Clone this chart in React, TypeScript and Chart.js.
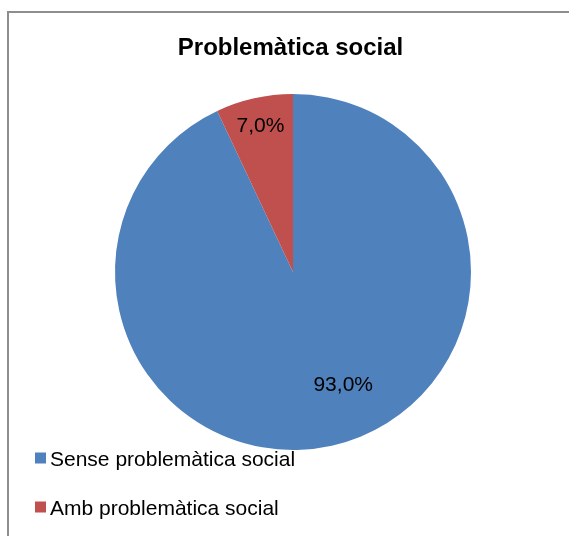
import React, { useEffect, useRef } from "react";
import { Chart, registerables } from "chart.js";

Chart.register(...registerables);

const title = "Problemàtica social";
const categories = ["Sense problemàtica social", "Amb problemàtica social"];
const values = [93.0, 7.0];
const valueLabels = ["93,0%", "7,0%"];
const colors = ["#4F81BD", "#C0504D"];
// label placement: fraction along the slice's arc, and fraction of radius
const labelArcFraction = [0.466, 0.5];
const labelRadiusFraction = [0.694, 0.84];

const FONT = "'Liberation Sans', Arial, sans-serif";

const overlayPlugin = {
  id: "overlay",
  afterDraw(chart: any) {
    const ctx = chart.ctx as CanvasRenderingContext2D;
    ctx.save();
    // title
    ctx.fillStyle = "#000";
    ctx.font = `bold 24px ${FONT}`;
    ctx.textAlign = "center";
    ctx.textBaseline = "alphabetic";
    ctx.fillText(title, 290.5, 55);

    // data labels
    const meta = chart.getDatasetMeta(0);
    ctx.font = `21px ${FONT}`;
    ctx.textBaseline = "middle";
    meta.data.forEach((arc: any, i: number) => {
      const p = arc.getProps(["x", "y", "startAngle", "endAngle", "outerRadius"], true);
      const a = p.startAngle + (p.endAngle - p.startAngle) * labelArcFraction[i];
      const r = p.outerRadius * labelRadiusFraction[i];
      ctx.fillText(valueLabels[i], p.x + Math.cos(a) * r, p.y + Math.sin(a) * r);
    });

    // legend
    ctx.textAlign = "left";
    ctx.textBaseline = "alphabetic";
    categories.forEach((c, i) => {
      const cy = 458 + i * 49;
      ctx.fillStyle = colors[i];
      ctx.fillRect(35, cy - 5.5, 11, 11);
      ctx.fillStyle = "#000";
      ctx.fillText(c, 50, cy + 8);
    });
    ctx.restore();
  },
};

export default function App() {
  const ref = useRef<HTMLCanvasElement>(null);
  useEffect(() => {
    document.body.style.margin = "0";
    const chart = new Chart(ref.current as HTMLCanvasElement, {
      type: "pie",
      data: {
        labels: categories,
        datasets: [
          {
            data: values,
            backgroundColor: colors,
            borderWidth: 0,
          },
        ],
      },
      options: {
        animation: false,
        responsive: false,
        maintainAspectRatio: false,
        layout: { padding: { left: 115, right: 98, top: 94, bottom: 86 } },
        plugins: {
          legend: { display: false },
          title: { display: false },
          tooltip: { enabled: false },
        },
      },
      plugins: [overlayPlugin],
    });
    return () => chart.destroy();
  }, []);
  return (
    <div style={{ position: "relative", width: 569, height: 536, overflow: "hidden", background: "#fff" }}>
      <div
        style={{
          position: "absolute",
          left: 7,
          top: 11,
          width: 700,
          height: 700,
          border: "2px solid #8e8e8e",
          boxSizing: "border-box",
        }}
      />
      <canvas ref={ref} width={569} height={536} style={{ position: "absolute", left: 0, top: 0 }} />
    </div>
  );
}
